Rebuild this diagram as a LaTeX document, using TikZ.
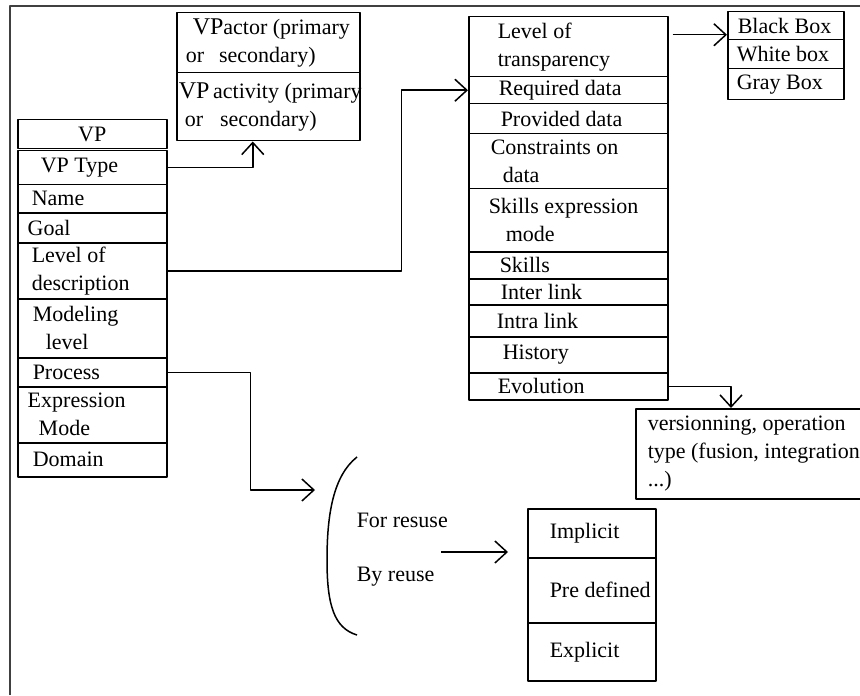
\documentclass[tikz,border=0pt]{standalone}
\usepackage{fontspec}
\setmainfont{Liberation Serif}
\usetikzlibrary{arrows.meta}
\newcommand{\vpbig}{{\fontsize{12}{14}\selectfont VP}}
\tikzset{
	cell/.style={draw, anchor=north west, inner sep=0pt, minimum width=#1},
	txt/.style={anchor=west, align=left, inner sep=0pt},
	frame/.style={line width=1pt, black!75}
}
\begin{document}
\begin{tikzpicture}[x=0.5pt, y=-0.5pt, font=\fontsize{11}{14}\selectfont, line width=0.75pt, line join=round, >={Straight Barb[length=6pt,width=11pt]}]
	\useasboundingbox (0,0) rectangle (860,695);
	\clip (0,0) rectangle (860,695);
	\draw[frame] (10,695) -- (10,6) -- (860,6);
	% VP column
	\node[cell=74.5pt, minimum height=14.5pt] (vp) at (17,119) {VP};
	\foreach \n/\ya/\yb/\ind/\lab in {vt/150/184/23/{VP Type}, nm/184/212/14/Name, gl/212/242/10/Goal, lod/242/298/14/{Level of\\description}, mdl/298/357/15/{Modeling\\\hspace*{6.5pt}level}, pro/357/386/15/Process, exm/386/442/10/{Expression\\\hspace*{5.5pt}Mode}, dom/442/476/15/Domain}
	{
		\node[cell=74.5pt, minimum height={(\yb-\ya)*0.5pt}] (\n) at (17,\ya) {};
		\node[txt] (\n-t) at ([xshift=\ind*0.5pt]\n.west) {\lab};
	}
	% actor / activity
	\node[cell=91.5pt, minimum height=30pt] (act1) at (176,12) {};
	\node[txt] (act1-t) at ([xshift=4.5pt]act1.west) {\hspace*{3.5pt}\vpbig actor (primary\\or\hspace{7.5pt}secondary)};
	\node[cell=91.5pt, minimum height=34pt] (act) at (176,72) {};
	\node[txt] (act-t) at ([xshift=1pt]act.west) {\vpbig\,activity (primary\\\hspace*{3pt}or\hspace{8.5pt}secondary)};
	% description column
	\foreach \n/\ya/\yb/\ind/\lab in {lot/16/76/29/{Level of\\transparency}, rd/76/103/30/{Required data}, pd/103/133/32/{Provided data}, cod/133/188/22/{Constraints on\\\hspace*{6pt}data}, sem/188/251/20/{Skills expression\\\hspace*{8.5pt}mode}, sk/251/278/31/Skills, itr/278/304/32/{Inter link}, ita/304/336/28/{Intra link}, his/336/372/34/History, evo/372/399/29/Evolution}
	{
		\node[cell=99.5pt, minimum height={(\yb-\ya)*0.5pt}] (\n) at (468,\ya) {};
		\node[txt] (\n-t) at ([xshift=\ind*0.5pt]\n.west) {\lab};
	}
	\foreach \n/\ya/\yb/\ind/\lab in {bb/11/39/10/{Black Box}, wb/39/68/9/{White box}, gb/68/99/9/{Gray Box}}
	{
		\node[cell=58pt, minimum height={(\yb-\ya)*0.5pt}] (\n) at (727,\ya) {};
		\node[txt] (\n-t) at ([xshift=\ind*0.5pt]\n.west) {\lab};
	}
	\node[cell=117.5pt, minimum height=45pt] (ver) at (635,408) {};
	\node[txt] (ver-t) at ([xshift=6pt]ver.west) {versionning, operation\\type (fusion, integration\\...)};
	% reuse
	\draw (357,457) .. controls (333,476) and (327,515) .. (327,560) .. controls (327,605) and (334,628) .. (357,635);
	\coordinate (br) at (315,490);
	\node[txt] (forr) at (356,520) {For resuse};
	\node[txt] (byr) at (356,577) {By reuse};
	\coordinate (fr) at (441,552);
	\foreach \n/\ya/\yb/\ind/\lab in {imp/508/557/22/Implicit, pre/557/622/22/{Pre defined}, exp/622/680/22/Explicit}
	{
		\node[cell=64pt, minimum height={(\yb-\ya)*0.5pt}] (\n) at (527,\ya) {};
		\node[txt] (\n-t) at ([xshift=\ind*0.5pt]\n.west) {\lab};
	}
	% links
	\draw[->] (vt.east) -| ([xshift=-7.75pt]act.south);
	\draw[->] (lod.east) -- ++(234,0) |- (rd.west);
	\draw[->] ([xshift=2pt,yshift=6pt]lot.east) coordinate (t1) -- (t1 -| bb.west);
	\draw[->] (evo.east) -| ([xshift=48pt]ver.north west);
	\draw[->] (pro.east) -- ++(83,0) |- (br);
	\draw[->, shorten >=9.5pt] (fr) -- (fr -| imp.west);
\end{tikzpicture}
\end{document}
